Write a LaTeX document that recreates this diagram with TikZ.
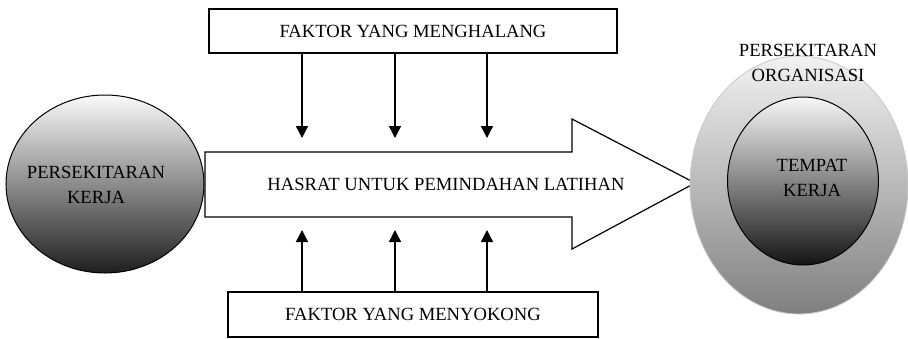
\documentclass[tikz,border=0pt]{standalone}
\usepackage{fontspec}
\setmainfont{Liberation Serif}
\usetikzlibrary{shapes.geometric,arrows.meta}
\begin{document}
\begin{tikzpicture}[x=1pt,y=-1pt,
  lbl/.style={font=\fontsize{18.6}{25}\selectfont, align=center, text=black},
  factorbox/.style={draw, line width=1.2pt, inner sep=0pt, lbl},
  push/.style={line width=1.5pt, -{Triangle[width=12pt,length=12pt]}},
  orb/.style={ellipse, draw, inner sep=0pt, shading=axis},
]
\useasboundingbox (0,0) rectangle (908,338);

% working environment (left)
\node[orb, line width=1pt, minimum width=198pt, minimum height=178pt,
      top color=black!2, middle color=black!22, bottom color=black!88] (work) at (105,184) {};
\node[lbl] (worktxt) at (96,185) {PERSEKITARAN\\KERJA};

% big arrow: desire to transfer training
\draw[line width=1.2pt, fill=white] (205,152) -- (572,152) -- (572,119) -- (695,183)
  -- (572,249) -- (572,217) -- (205,217) -- cycle;
\node[lbl] (flow) at (446,184) {HASRAT UNTUK PEMINDAHAN LATIHAN};

% organisation and workplace (right)
\node[orb, draw=black!22, line width=0.8pt, minimum width=218pt, minimum height=258pt,
      top color=black!5, middle color=black!20, bottom color=black!50] (org) at (799,185) {};
\node[orb, line width=1pt, minimum width=151pt, minimum height=168pt,
      top color=black!3, middle color=black!30, bottom color=black!92] (place) at (803,181) {};
\node[lbl] (orgtxt) at (808,63) {PERSEKITARAN\\ORGANISASI};
\node[lbl] (placetxt) at (812,178) {TEMPAT\\KERJA};

% factor boxes
\node[factorbox, minimum width=408pt, minimum height=44pt] (hinder) at (413,31) {FAKTOR YANG MENGHALANG};
\node[factorbox, minimum width=370pt, minimum height=45pt] (support) at (413,314.5) {FAKTOR YANG MENYOKONG};

% arrow ends
\coordinate (d1) at (302,138);
\coordinate (d2) at (395,138);
\coordinate (d3) at (487,138);
\coordinate (u1) at (302,230);
\coordinate (u2) at (395,230);
\coordinate (u3) at (487,230);

\foreach \c in {d1,d2,d3} \draw[push] (hinder.south -| \c) -- (\c);
\foreach \c in {u1,u2,u3} \draw[push] (support.north -| \c) -- (\c);
\end{tikzpicture}
\end{document}
